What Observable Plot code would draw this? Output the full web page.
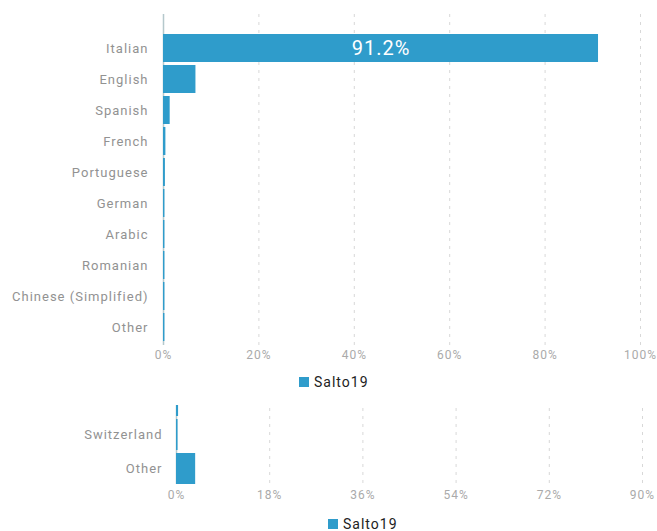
<!DOCTYPE html>
<html>
<head>
<meta charset="utf-8">
<script src="https://cdn.jsdelivr.net/npm/d3@7"></script>
<script src="https://cdn.jsdelivr.net/npm/@observablehq/plot@0.6"></script>
<style>
  body { margin: 0; background: #fff; font-family: Roboto, "Open Sans", sans-serif; }
  #wrap { position: relative; width: 657px; height: 531px; overflow: hidden; }
  .abs { position: absolute; }
  .legend { position: absolute; display: flex; align-items: center; font-size: 14px; letter-spacing: 1px; color: #222; }
  .legend .sw { width: 10px; height: 10px; background: #2f9ccb; margin-right: 5px; }
</style>
</head>
<body>
<div id="wrap">
  <div id="top" class="abs" style="left:0;top:0"></div>
  <div class="legend" style="left:299px;top:374px"><div class="sw"></div><span>Salto19</span></div>
  <div id="clip" class="abs" style="left:0;top:405px;width:657px;height:103px;overflow:hidden">
    <div id="bottom" style="position:relative;top:-33px"></div>
  </div>
  <div class="legend" style="left:328px;top:516px"><div class="sw"></div><span>Salto19</span></div>
</div>
<script>
const languages = ["Italian","English","Spanish","French","Portuguese","German","Arabic","Romanian","Chinese (Simplified)","Other"];
const languageValues = [91.2, 6.8, 1.4, 0.5, 0.4, 0.3, 0.3, 0.3, 0.3, 0.3];
const languageTicks = [0, 20, 40, 60, 80, 100];

const countries = ["Netherlands","Switzerland","Other"];
const countryValues = [0.4, 0.3, 3.7];
const countryTicks = [0, 18, 36, 54, 72, 90];

const barColor = "#2f9ccb";
const font = "Roboto, 'Open Sans', sans-serif";

const langData = languages.map((c, i) => ({cat: c, value: languageValues[i]}));
const countryData = countries.map((c, i) => ({cat: c, value: countryValues[i]}));

function chart(data, cats, ticks, domainMax, opts) {
  return Plot.plot({
    width: 657,
    height: opts.height,
    marginLeft: opts.marginLeft,
    marginRight: opts.marginRight,
    marginTop: opts.marginTop,
    marginBottom: opts.marginBottom,
    style: {fontFamily: font, background: "transparent", letterSpacing: "1px"},
    x: {domain: [0, domainMax], ticks: ticks, tickFormat: d => d + "%"},
    y: {domain: cats, paddingInner: 0.1, paddingOuter: opts.paddingOuter, insetTop: opts.insetTop || 0},
    marks: [
      Plot.ruleX(ticks.filter(t => t > 0), {stroke: "#d8d8d8", strokeDasharray: "3,5", strokeWidth: 1}),
      Plot.ruleX([0], {stroke: "#b5c8cc", strokeWidth: 1.5}),
      Plot.axisX({ticks: ticks, tickSize: 0, tickPadding: opts.xPad, fontSize: 12, fill: "#aaa", label: null, tickFormat: d => d + "%"}),
      Plot.axisY({tickSize: 0, tickPadding: opts.yPad, fontSize: 13, fill: "#929292", label: null, textAnchor: "end"}),
      Plot.barX(data, {x: "value", y: "cat", fill: barColor}),
      Plot.text(data.filter(d => d.value > 50), {x: d => d.value / 2, y: "cat", text: d => d.value.toFixed(1) + "%", fill: "#fff", fontSize: 20})
    ]
  });
}

document.getElementById("top").append(chart(langData, languages, languageTicks, 100, {
  height: 372, marginLeft: 163, marginRight: 17, marginTop: 14, marginBottom: 27,
  paddingOuter: 0.03, insetTop: 16, xPad: 5, yPad: 15
}));

document.getElementById("bottom").append(chart(countryData, countries, countryTicks, 90, {
  height: 136, marginLeft: 176, marginRight: 15, marginTop: 12, marginBottom: 24,
  paddingOuter: 0.02, xPad: 6, yPad: 14
}));
</script>
</body>
</html>
